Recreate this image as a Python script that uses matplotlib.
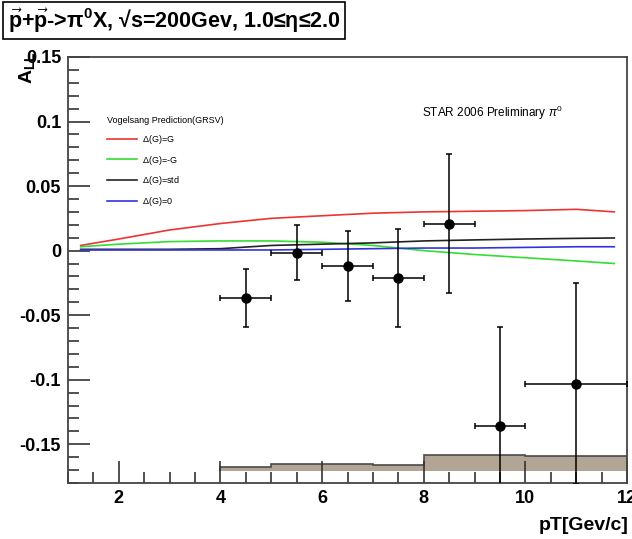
import matplotlib
matplotlib.use("Agg")
import matplotlib.pyplot as plt
import numpy as np
from matplotlib.ticker import MultipleLocator

plt.rcParams['font.family'] = ['Liberation Sans', 'DejaVu Sans']
plt.rcParams['mathtext.fontset'] = 'custom'
plt.rcParams['mathtext.rm'] = 'Liberation Sans'
plt.rcParams['mathtext.it'] = 'Liberation Sans:italic'
plt.rcParams['mathtext.bf'] = 'Liberation Sans:bold'

# Data points
pt = [4.5, 5.5, 6.5, 7.5, 8.5, 9.5, 11.0]
pt_err = [0.5, 0.5, 0.5, 0.5, 0.5, 0.5, 1.0]
all_vals = [-0.037, -0.0015, -0.012, -0.021, 0.021, -0.136, -0.103]
all_err = [0.0225, 0.021, 0.027, 0.038, 0.0535, 0.077, 0.078]

# Theory curves
x_th = [1.25, 2, 3, 4, 5, 6, 7, 8, 9, 10, 11, 11.75]
red_G = [0.004, 0.009, 0.016, 0.021, 0.025, 0.027, 0.029, 0.030, 0.0305, 0.031, 0.032, 0.030]
green_mG = [0.003, 0.005, 0.007, 0.0075, 0.0075, 0.0065, 0.004, 0.0, -0.003, -0.0055, -0.008, -0.010]
black_std = [0.001, 0.001, 0.001, 0.0015, 0.004, 0.005, 0.006, 0.0075, 0.0083, 0.009, 0.0095, 0.0098]
blue_0 = [0.0005, 0.0005, 0.0005, 0.0005, 0.0005, 0.001, 0.0015, 0.002, 0.002, 0.0025, 0.003, 0.003]

# Systematic band
sys_edges = [4, 5, 7, 8, 9, 10, 12]
sys_top = [-0.1675, -0.165, -0.166, -0.158, -0.1585, -0.159]
sys_base = -0.1705

fig = plt.figure(figsize=(6.32, 5.39), dpi=100)
ax = fig.add_axes([0.1076, 0.1039, 0.8845, 0.7904])

ax.stairs(sys_top, sys_edges, baseline=sys_base, fill=True, color='#b3a595', zorder=1)
ax.stairs(sys_top, sys_edges, baseline=sys_base, fill=False, color='#4a4a4a', lw=1.2, zorder=1)

l1, = ax.plot(x_th, red_G, color='#ee3333', lw=1.2, label=r'$\Delta$(G)=G')
l2, = ax.plot(x_th, green_mG, color='#33dd33', lw=1.2, label=r'$\Delta$(G)=-G')
l3, = ax.plot(x_th, black_std, color='#222222', lw=1.2, label=r'$\Delta$(G)=std')
l4, = ax.plot(x_th, blue_0, color='#3333dd', lw=1.2, label=r'$\Delta$(G)=0')

ax.errorbar(pt, all_vals, xerr=pt_err, yerr=all_err, fmt='o', color='black',
            ms=6.5, elinewidth=1.1, capsize=2, capthick=1.1, zorder=5)

ax.set_xlim(1, 12)
ax.set_ylim(-0.18, 0.15)
ax.xaxis.set_minor_locator(MultipleLocator(0.5))
ax.yaxis.set_minor_locator(MultipleLocator(0.01))
ax.tick_params(which='both', direction='in', top=False, right=False, color='#333333', width=1.2)
ax.tick_params(which='major', length=16, labelsize=13, pad=5)
ax.tick_params(which='minor', length=8)
ax.set_xticks([2, 4, 6, 8, 10, 12])
ax.set_xticklabels(['2', '4', '6', '8', '10', '12'], fontweight='bold')
ax.set_yticks([-0.15, -0.1, -0.05, 0, 0.05, 0.1, 0.15])
ax.set_yticklabels(['-0.15', '-0.1', '-0.05', '0', '0.05', '0.1', '0.15'], fontweight='bold')
for s in ax.spines.values():
    s.set_linewidth(1.3)
    s.set_color('#444444')

leg = ax.legend(handles=[l1, l2, l3, l4], loc='upper left', bbox_to_anchor=(0.055, 0.88),
                frameon=False, fontsize=6.5, title='Vogelsang Prediction(GRSV)',
                title_fontsize=6.5, alignment='left', handlelength=3.3, labelspacing=0.85,
                handletextpad=0.6)

ax.text(0.633, 0.868, r'STAR 2006 Preliminary $\pi^0$', transform=ax.transAxes,
        fontsize=8.5, va='center')

fig.text(0.042, 0.875, r'$\mathbf{A_{LL}}$', rotation=90, fontsize=14, ha='center', va='center')
fig.text(0.995, 0.025, 'pT[Gev/c]', fontsize=14, fontweight='bold', ha='right', va='center')

fig.text(0.012, 0.962, r'$\mathbf{\vec{p}}$+$\mathbf{\vec{p}}$->π$^{\mathbf{0}}$X, √s=200Gev, 1.0≤η≤2.0',
         fontsize=15.5, fontweight='bold', ha='left', va='center',
         bbox=dict(boxstyle='square,pad=0.22', fc='white', ec='black', lw=1.2))

fig.savefig('out.png', dpi=100)
